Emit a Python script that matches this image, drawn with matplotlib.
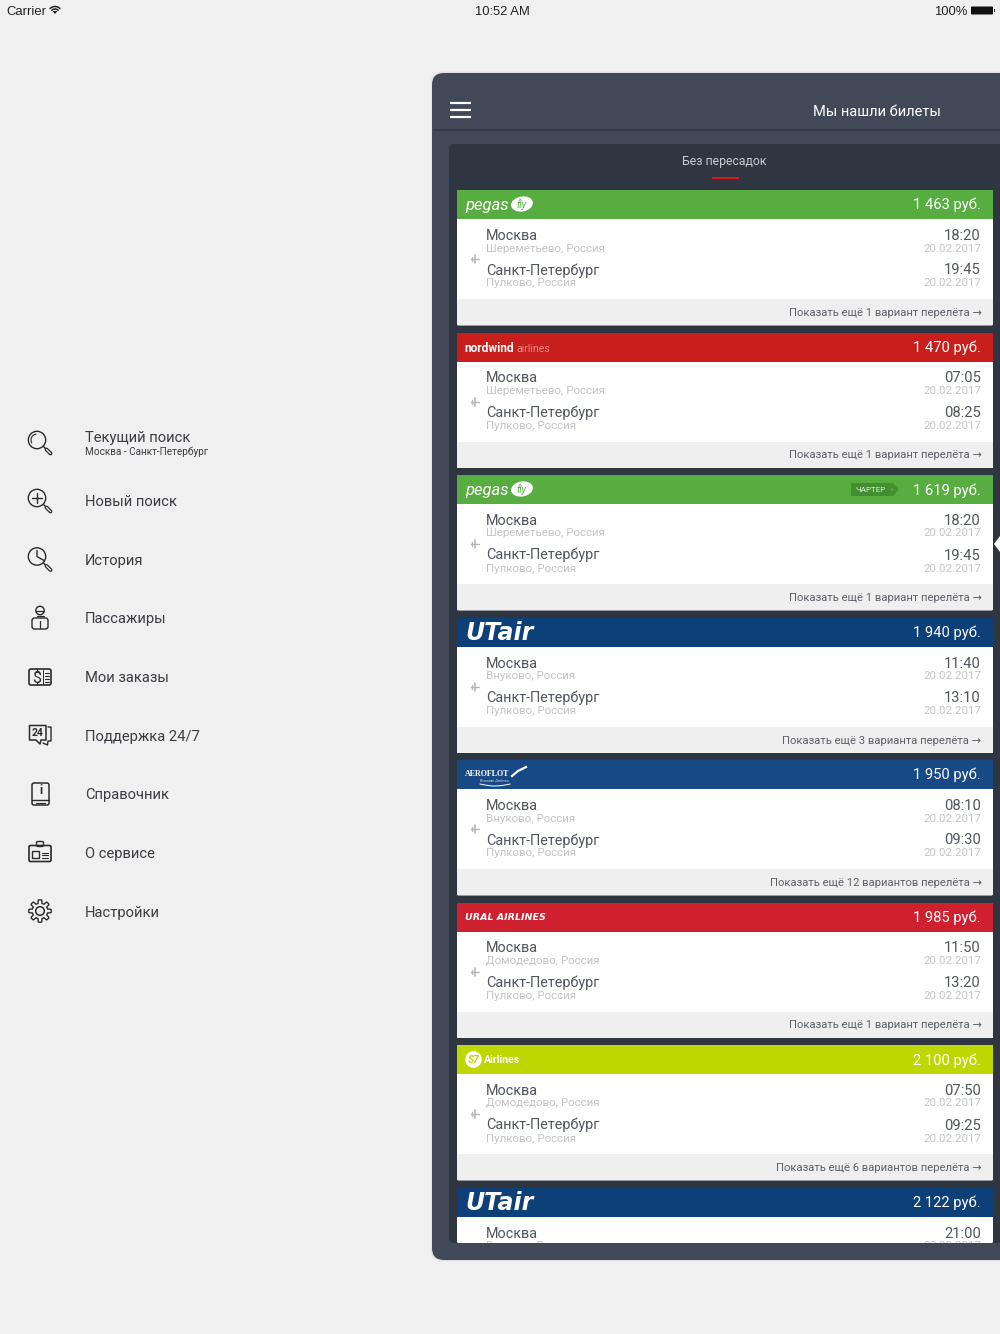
import numpy as np
import matplotlib
matplotlib.use('Agg')
import matplotlib.pyplot as plt
from matplotlib.patches import Rectangle, FancyBboxPatch, Circle, Polygon, Ellipse

UI = ['Roboto', 'DejaVu Sans']
plt.rcParams['font.family'] = UI

airlines = ['pegas', 'nordwind', 'pegas', 'utair', 'aeroflot', 'ural', 's7', 'utair']
head_colors = ['#58ad40', '#c91f1c', '#58ad40', '#0d3f78', '#174a85', '#cf2030', '#bfd700', '#0d3f78']
prices = ['1 463 руб.', '1 470 руб.', '1 619 руб.', '1 940 руб.', '1 950 руб.', '1 985 руб.', '2 100 руб.', '2 122 руб.']
airports = ['Шереметьево', 'Шереметьево', 'Шереметьево', 'Внуково', 'Внуково', 'Домодедово', 'Домодедово', 'Внуково']
dep_times = ['18:20', '07:05', '18:20', '11:40', '08:10', '11:50', '07:50', '21:00']
arr_times = ['19:45', '08:25', '19:45', '13:10', '09:30', '13:20', '09:25', '']
more = ['Показать ещё 1 вариант перелёта →', 'Показать ещё 1 вариант перелёта →',
        'Показать ещё 1 вариант перелёта →', 'Показать ещё 3 варианта перелёта →',
        'Показать ещё 12 вариантов перелёта →', 'Показать ещё 1 вариант перелёта →',
        'Показать ещё 6 вариантов перелёта →', '']
card_tops = [190, 332.5, 475, 617.5, 760, 902.5, 1045, 1187.5]

menu_items = ['Текущий поиск', 'Новый поиск', 'История', 'Пассажиры', 'Мои заказы',
              'Поддержка 24/7', 'Справочник', 'О сервисе', 'Настройки']
menu_y = [443, 501, 559.5, 618, 677, 735, 794, 852.5, 911]

DARK = '#50555f'
LIGHT = '#c4c4c4'
ICON = '#2b2b2b'

fig = plt.figure(figsize=(10, 13.34), dpi=100, facecolor='#f0f0f0')
ax = fig.add_axes([0, 0, 1, 1])
ax.set_xlim(0, 1000)
ax.set_ylim(1334, 0)
ax.axis('off')


def rect(x0, y0, x1, y1, color, z=1):
    ax.add_patch(Rectangle((x0, y0), x1 - x0, y1 - y0, fc=color, ec='none', zorder=z))


def rrect(x0, y0, x1, y1, r, fc='none', ec='none', lw=0, z=1):
    ax.add_patch(FancyBboxPatch((x0 + r, y0 + r), x1 - x0 - 2 * r, y1 - y0 - 2 * r,
                                boxstyle=f'round,pad={r},rounding_size={r}',
                                fc=fc, ec=ec, lw=lw, zorder=z))


def label(x, y, s, px, color=DARK, ha='left', z=5, **kw):
    # sizes are given in screen pixels
    kw.setdefault('family', UI)
    ax.text(x, y, s, fontsize=px * 0.72, color=color, ha=ha, va='baseline', zorder=z, **kw)


def stroke(xs, ys, color=ICON, lw=1.0, z=5):
    ax.plot(xs, ys, color=color, lw=lw, zorder=z, solid_capstyle='round')


def ring(x, y, r, color=ICON, lw=1.0, z=5):
    ax.add_patch(Circle((x, y), r, fc='none', ec=color, lw=lw, zorder=z))


# status bar
STATUS = ['Liberation Sans', 'DejaVu Sans']
label(6, 15, 'Carrier', 13, '#222222', family=STATUS)
for r in [7, 4.5]:
    t = np.linspace(np.radians(-135), np.radians(-45), 12)
    stroke(55 + r * np.cos(t), 13.5 + r * np.sin(t), '#222222', 1.1)
ax.add_patch(Polygon([[55, 14], [52.5, 11], [57.5, 11]], fc='#222222', ec='none', zorder=5))
label(502, 15, '10:52 AM', 13, '#222222', ha='center', family=STATUS)
label(967.5, 15, '100%', 13, '#222222', ha='right', family=STATUS)
rrect(971, 6.5, 993, 14.5, 1, fc='#111111', z=5)
rect(993.5, 9, 995, 12, '#333333', 5)

# side menu
for name, y in zip(menu_items, menu_y):
    if name == 'Текущий поиск':
        label(85, y - 1, name, 14.8, '#3a3d42')
        label(85, y + 12, 'Москва - Санкт-Петербург', 10, '#3a3d42')
    else:
        label(85, y + 5.5, name, 14.8, '#3a3d42')


def lens(y):
    ring(37, y - 3, 8.7)
    stroke([43.5, 46], [y + 3.5, y + 6], lw=1.0)
    stroke([46.5, 50.5], [y + 6.5, y + 10.5], lw=2.8)
    stroke([46.5, 50.5], [y + 6.5, y + 10.5], '#f0f0f0', 1.0, 6)


lens(menu_y[0])
t = np.linspace(np.radians(150), np.radians(260), 12)
stroke(37 + 6 * np.cos(t), menu_y[0] - 3 + 6 * np.sin(t), lw=0.8)
lens(menu_y[1])
stroke([32, 42], [menu_y[1] - 3, menu_y[1] - 3])
stroke([37, 37], [menu_y[1] - 8, menu_y[1] + 2])
lens(menu_y[2])
stroke([37, 37, 44], [menu_y[2] - 9, menu_y[2] - 3, menu_y[2] + 1])

# passengers
y = menu_y[3]
ring(40, y - 7.5, 4.2)
stroke([36, 44], [y - 7.5, y - 7.5], lw=0.9)
rrect(32, y, 48, y + 11, 2.5, ec=ICON, lw=1.0, z=5)
stroke([40, 40], [y + 3, y + 10], lw=0.9)
stroke([36.5, 43.5], [y - 2.5, y - 2.5], lw=0.9)

# orders
y = menu_y[4]
rrect(29, y - 8, 51, y + 8, 2, ec=ICON, lw=1.2, z=5)
ax.text(36.5, y + 0.5, '$', fontsize=11.5, color=ICON, ha='center', va='center', zorder=5, family=UI)
stroke([43, 43], [y - 7, y + 7], lw=0.7)
for dy in [-4, -1, 2, 5]:
    stroke([45, 48.5], [y + dy, y + dy], lw=0.8)

# support
y = menu_y[5]
ax.add_patch(Polygon([[29.5, y - 9.5], [46, y - 9.5], [46, y + 5], [41, y + 5], [40, y + 9],
                      [36, y + 5], [29.5, y + 5]], closed=True, fc='none', ec=ICON, lw=1.1,
                     joinstyle='round', zorder=5))
stroke([48, 51, 51, 48, 47.5, 43], [y - 8, y - 8, y + 6, y + 6, y + 10, y + 8], lw=1.0)
ax.text(38, y - 2.5, '24', fontsize=7.5, color=ICON, ha='center', va='center', zorder=5,
        family=UI, fontweight='bold')

# handbook
y = menu_y[6]
rrect(32, y - 11, 49, y + 11, 2, ec=ICON, lw=1.1, z=5)
stroke([32, 49], [y + 6, y + 6])
stroke([36, 45], [y + 8.5, y + 8.5], lw=0.8)
ax.text(40.5, y - 3, 'i', fontsize=8.5, color=ICON, ha='center', va='center', zorder=5,
        family=UI, fontweight='bold')

# about
y = menu_y[7]
rrect(29, y - 7, 51, y + 9, 1.5, ec=ICON, lw=1.2, z=5)
rrect(36.5, y - 11, 43.5, y - 6, 1.5, ec=ICON, lw=1.0, z=5)
rrect(32.5, y - 1, 39.5, y + 6, 0.5, ec=ICON, lw=1.0, z=5)
for dy in [0, 2.5, 5]:
    stroke([42, 48], [y + dy, y + dy], lw=0.8)

# settings
y = menu_y[8]
t = np.linspace(0, 2 * np.pi, 193)
r = 9.5 + 1.7 * np.tanh(4 * np.cos(8 * t))
ax.add_patch(Polygon(np.c_[40 + r * np.cos(t), y + r * np.sin(t)], closed=True, fc='none',
                     ec=ICON, lw=1.0, zorder=5))
ring(40, y, 4.3, lw=1.1)

# main panel with a soft shadow
for pad, alpha in [(2, 0.02), (1, 0.04)]:
    rrect(432 - pad, 73 - pad, 1020 + pad, 1260 + pad, 12, fc=(0, 0, 0, alpha), z=1)
rrect(432, 73, 1020, 1260, 12, fc='#414857', z=2)
rect(432.5, 129, 1000, 131, '#343a46', 3)
rrect(449, 144, 1020, 1243, 5, fc='#2f3541', z=3)
for yy in [103, 110, 117]:
    ax.plot([450, 471], [yy, yy], color='white', lw=1.6, zorder=5, solid_capstyle='butt')
label(876.5, 116, 'Мы нашли билеты', 14.6, 'white', ha='center')
label(724.5, 165, 'Без пересадок', 12.2, '#c9cbd0', ha='center')
rect(711.5, 177, 738.5, 178.5, '#d9191c', 5)
ax.add_patch(Polygon([[994, 544], [1000, 536], [1000, 552]], fc='white', ec='none', zorder=5))


def logo(kind, top):
    if kind == 'pegas':
        ax.text(465, top + 20, 'pegas', fontsize=12, color='white', style='italic',
                family=UI, zorder=5, va='baseline')
        ax.add_patch(Ellipse((522, top + 14), 22, 15, angle=-10, fc='white', ec='none', zorder=5))
        ax.text(521, top + 14.5, 'fly', fontsize=7, color=head_colors[0], style='italic',
                family=UI, ha='center', va='center', zorder=6)
    elif kind == 'nordwind':
        ax.text(464.5, top + 19, 'nordwind', fontsize=8.6, color='white', fontweight='bold',
                family=UI, zorder=5)
        ax.text(516.5, top + 19, 'airlines', fontsize=7.6, color='#e58a87', family=UI, zorder=5)
    elif kind == 'utair':
        ax.text(465, top + 22, 'UTair', fontsize=17, color='white', fontweight='bold', style='italic',
                family=['DejaVu Sans'], zorder=5)
    elif kind == 'aeroflot':
        ax.text(465, top + 16, 'AEROFLOT', fontsize=5.8, color='white', fontweight='bold',
                family='Liberation Serif', zorder=5)
        ax.text(480, top + 22, 'Russian Airlines', fontsize=3, color='#cfd8e6', style='italic',
                family=UI, zorder=5)
        ax.plot([512, 518, 526], [top + 16, top + 11, top + 7], color='white', lw=1.6, zorder=5)
        t = np.linspace(0, 1, 10)
        ax.plot(480 + 30 * t, top + 24 + 2 * np.sin(np.pi * t), color='white', lw=0.7, zorder=5)
    elif kind == 'ural':
        ax.text(465, top + 18, 'URAL AIRLINES', fontsize=6.8, color='white', fontweight='bold',
                style='italic', family=['DejaVu Sans'], zorder=5)
    elif kind == 's7':
        ax.add_patch(Circle((473.5, top + 14.5), 8.3, fc='white', ec='none', zorder=5))
        ax.text(473.5, top + 15, 'S7', fontsize=7.5, color=head_colors[6], fontweight='bold',
                style='italic', family=UI, ha='center', va='center', zorder=6)
        ax.text(484, top + 18, 'Airlines', fontsize=7.6, color='white', fontweight='bold',
                family=UI, zorder=5)


# ticket cards
for i, top in enumerate(card_tops):
    bottom = min(top + 135.5, 1243)
    rrect(457, top + 1, 993, bottom, 1.5, fc='white', z=4)
    rect(457, top, 993, top + 29, head_colors[i], 4)
    logo(airlines[i], top)
    label(981, top + 19.5, prices[i], 14.8, 'white', ha='right')
    label(486, top + 50, 'Москва', 14.4, DARK)
    label(981, top + 50, dep_times[i], 14.8, DARK, ha='right')
    if not arr_times[i]:
        continue
    rect(457, top + 109, 993, top + 135, '#efefef', 4)
    label(486, top + 61.5, airports[i] + ', Россия', 11.5, LIGHT)
    label(981, top + 61.5, '20.02.2017', 11.5, LIGHT, ha='right')
    label(486, top + 84.5, 'Санкт-Петербург', 14.4, DARK)
    label(486, top + 96.5, 'Пулково, Россия', 11.5, LIGHT)
    label(981, top + 84.5, arr_times[i], 14.8, DARK, ha='right')
    label(981, top + 96.5, '20.02.2017', 11.5, LIGHT, ha='right')
    label(981.5, top + 126, more[i], 11.3, '#5d6068', ha='right')
    # little plane between the two cities
    py = top + 69
    stroke([470.5, 479], [py, py], '#b5b7bb', 1.0)
    stroke([475, 475], [py - 4, py + 4], '#b5b7bb', 1.2)
    stroke([471.5, 471.5], [py - 2, py + 2], '#b5b7bb', 1.0)

# charter tag on the third card
top = card_tops[2]
ax.add_patch(Polygon([[851, top + 8], [893, top + 8], [899, top + 14.5], [893, top + 21], [851, top + 21]],
                     fc='#418f2f', ec='none', zorder=5))
label(870.5, top + 17.5, 'ЧАРТЕР', 8.2, '#dfeeda', ha='center')
ax.add_patch(Circle((892, top + 14.5), 1.2, fc='#58ad40', ec='none', zorder=5))

# last card is cut off with what is left of its airport and date lines
top = card_tops[7]
label(486, top + 61.5, airports[7] + ', Россия', 11.5, LIGHT)
label(981, top + 61.5, '20.02.2017', 11.5, LIGHT, ha='right')
rect(449, 1243, 1000, 1258, '#414857', 7)

fig.savefig('out.png', dpi=100, facecolor=fig.get_facecolor())
